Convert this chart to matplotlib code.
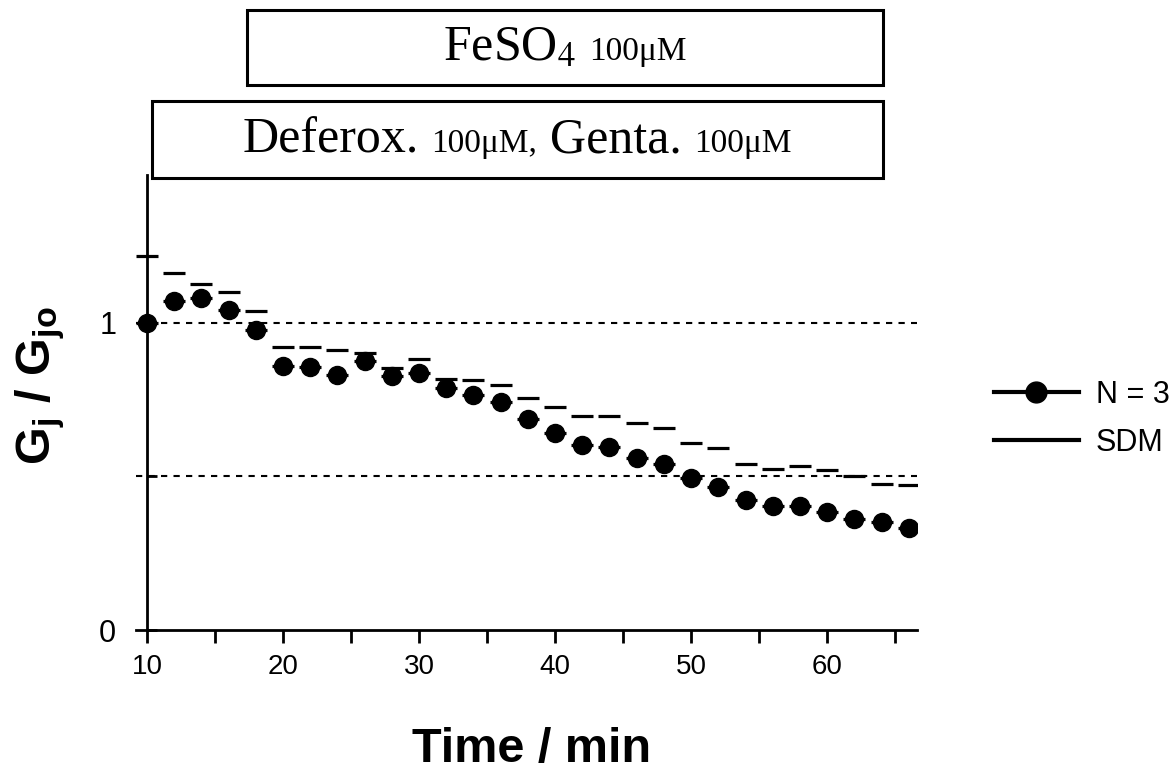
import matplotlib
matplotlib.use("Agg")
import matplotlib.pyplot as plt
import numpy as np
from matplotlib.lines import Line2D
from matplotlib.patches import Rectangle
from matplotlib.offsetbox import TextArea, HPacker, AnnotationBbox

# time points (min), normalised conductance and SDM
time_min = np.arange(10, 67, 2)
gj_ratio = [1.00, 1.07, 1.08, 1.04, 0.977, 0.86, 0.857, 0.83, 0.875, 0.827,
            0.837, 0.788, 0.765, 0.742, 0.687, 0.642, 0.603, 0.596, 0.56, 0.54,
            0.495, 0.466, 0.423, 0.404, 0.404, 0.384, 0.36, 0.352, 0.332]
sdm = [0.215, 0.09, 0.044, 0.058, 0.062, 0.062, 0.065, 0.082, 0.027, 0.026,
       0.045, 0.029, 0.049, 0.056, 0.068, 0.084, 0.094, 0.101, 0.114, 0.118,
       0.114, 0.127, 0.118, 0.12, 0.13, 0.137, 0.142, 0.124, 0.14]
ref_levels = [1.0, 0.5]
x_major = [10, 20, 30, 40, 50, 60]
x_minor = [15, 25, 35, 45, 55, 65]
y_ticks = [0, 0.5, 1]
y_ticklabels = ["0", "", "1"]

W, H = 1173, 772
fig = plt.figure(figsize=(W / 100, H / 100), dpi=100)


def fx(px):
    return px / W


def fy(py):
    return 1 - py / H


ax = fig.add_axes([fx(136), fy(630), fx(917 - 136), (630 - 175) / H])
ax.set_xlim(9.2, 66.6)
ax.set_ylim(0, 1.48)

for lvl in ref_levels:
    ax.axhline(lvl, color="black", linestyle=(0, (3, 3)), linewidth=1.5, zorder=1)

ax.errorbar(time_min, gj_ratio, yerr=[np.zeros(len(sdm)), sdm], fmt="none",
            ecolor="black", elinewidth=0, capsize=7.6, capthick=2.3, zorder=2)
ax.plot(time_min, gj_ratio, "o", color="black", markersize=13, zorder=3)

for side in ["top", "right"]:
    ax.spines[side].set_visible(False)
ax.spines["left"].set_position(("data", 10))
ax.spines["left"].set_linewidth(2)
ax.spines["bottom"].set_linewidth(2)

ax.set_xticks(x_major)
ax.set_xticks(x_minor, minor=True)
ax.tick_params(axis="x", which="both", direction="out", length=9, width=2,
               labelsize=20, pad=8)
ax.set_yticks(y_ticks)
ax.set_yticklabels(y_ticklabels)
ax.tick_params(axis="y", direction="in", length=7, width=2, labelsize=22, pad=22)
for lab in ax.get_xticklabels() + ax.get_yticklabels():
    lab.set_fontfamily("Liberation Sans")

plt.rcParams["mathtext.fontset"] = "custom"
plt.rcParams["mathtext.rm"] = "Liberation Sans:bold"
plt.rcParams["mathtext.it"] = "Liberation Sans:bold"
plt.rcParams["mathtext.bf"] = "Liberation Sans:bold"

fig.text(fx(40), fy(386), r"G$_{\rm j}$ / G$_{\rm jo}$", rotation=90,
         ha="center", va="center", fontsize=35, fontweight="bold",
         family="Liberation Sans", math_fontfamily="custom")
fig.text(fx(532), 0.0, "Time / min", ha="center", va="bottom",
         fontsize=35, fontweight="bold", family="Liberation Sans")

handles = [Line2D([], [], color="black", lw=3, marker="o", markersize=15),
           Line2D([], [], color="black", lw=3)]
fig.legend(handles, ["N = 3", "SDM"], loc="center left",
           bbox_to_anchor=(fx(966), fy(419)), frameon=False,
           prop={"family": "Liberation Sans", "size": 22},
           handlelength=2.8, handletextpad=0.55, labelspacing=0.6)

# treatment boxes
boxes = [(247, 10, 883, 85), (152, 101, 883, 178)]
for x0, y0, x1, y1 in boxes:
    fig.patches.append(Rectangle((fx(x0), fy(y1)), fx(x1 - x0), (y1 - y0) / H,
                                 transform=fig.transFigure, fill=False,
                                 edgecolor="black", linewidth=2.2))

big = {"family": "Liberation Serif", "size": 36, "math_fontfamily": "stix"}
small = {"family": "Liberation Serif", "size": 24}


def box_label(parts, cx, cy):
    areas = [TextArea(s, textprops=p) for s, p in parts]
    pack = HPacker(children=areas, align="baseline", pad=0, sep=9)
    ab = AnnotationBbox(pack, (fx(cx), fy(cy)), xycoords="figure fraction",
                        frameon=False, box_alignment=(0.5, 0.5))
    fig.add_artist(ab)


box_label([(r"FeSO$_{4}$", big), ("100\u03bcM", small)], 565, 48)
box_label([("Deferox.", big), ("100\u03bcM,", small), ("Genta.", big),
           ("100\u03bcM", small)], 517, 140)

fig.savefig("out.png", dpi=100)
